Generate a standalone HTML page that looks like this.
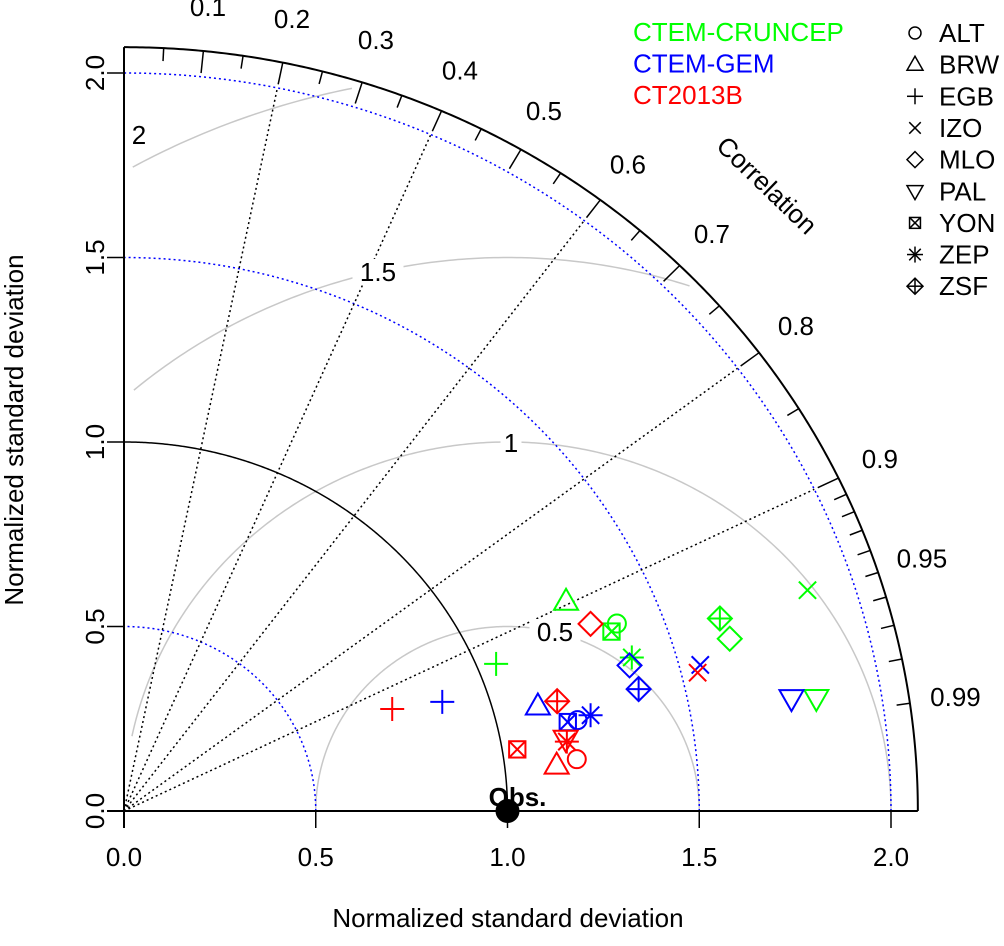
<!DOCTYPE html>
<html><head><meta charset="utf-8"><style>
html,body{margin:0;padding:0;background:#fff;}
svg{display:block;font-family:"Liberation Sans",Arial,sans-serif;}
</style></head><body>
<svg id="chart" width="1004" height="946" viewBox="0 0 1004 946" xmlns="http://www.w3.org/2000/svg">
<g id="grid"></g>
<g id="marks"></g>
<g id="legend"></g>
</svg>
<script>
const stations = ["ALT","BRW","EGB","IZO","MLO","PAL","YON","ZEP","ZSF"];
const models = ["CTEM-CRUNCEP","CTEM-GEM","CT2013B"];
const modelColors = ["#00ff00","#0000ff","#ff0000"];
const sdCruncep = [1.382,1.285,1.049,1.880,1.647,1.831,1.361,1.388,1.639];
const corCruncep = [0.930,0.897,0.925,0.948,0.959,0.986,0.934,0.954,0.948];
const sdGem = [1.208,1.116,0.881,1.554,1.376,1.767,1.182,1.244,1.382];
const corGem = [0.979,0.967,0.942,0.967,0.958,0.985,0.979,0.978,0.971];
const sdCt = [1.189,1.135,0.752,1.542,1.318,1.168,1.039,1.170,1.168];
const corCt = [0.993,0.994,0.930,0.970,0.923,0.986,0.987,0.987,0.967];
const sdTicks = [0,0.5,1.0,1.5,2.0];
const sdTickLabels = ["0.0","0.5","1.0","1.5","2.0"];
const corrLabels = [0.1,0.2,0.3,0.4,0.5,0.6,0.7,0.8,0.9,0.95,0.99];
const corrLines = [0.2,0.4,0.6,0.8,0.9];
const rmsLevels = [0.5,1,1.5,2];
const rmsLabels = ["0.5","1","1.5","2"];

const NS="http://www.w3.org/2000/svg";
const OX=124, OY=811, SX=383.5, SY=369, RMAX=2.07, FS=26;
const px=x=>OX+x*SX, py=y=>OY-y*SY;
const polar=(r,c)=>[px(r*c), py(r*Math.sqrt(Math.max(0,1-c*c)))];
function el(tag,attrs,parent){const e=document.createElementNS(NS,tag);for(const k in attrs)e.setAttribute(k,attrs[k]);parent.appendChild(e);return e;}
function arcPath(cx,r,t0,t1,filter){let d="",pen=false;for(let i=0;i<=400;i++){const t=t0+(t1-t0)*i/400;const x=cx+r*Math.cos(t),y=r*Math.sin(t);if(filter&&!filter(x,y)){pen=false;continue;}d+=(pen?"L":"M")+px(x).toFixed(2)+","+py(y).toFixed(2);pen=true;}return d;}
const grid=document.getElementById('grid');

rmsLevels.forEach((r,i)=>{
  const p=el('path',{d:arcPath(1,r,0,Math.PI,(x,y)=>x>=0.02&&Math.hypot(x,y)<=2.05),fill:'none',stroke:'#c8c8c8','stroke-width':1.5},grid);
  
  
});
[0.5,1.5,2.0].forEach(r=>{
  const p=el('path',{d:arcPath(0,r,0,Math.PI/2),fill:'none',stroke:'#0000ff','stroke-width':1.5,'stroke-dasharray':'2,3'},grid);
  
  
});
let ra=el('path',{d:arcPath(0,1,0,Math.PI/2),fill:'none',stroke:'#000','stroke-width':1.5},grid);


corrLines.forEach(c=>{
  const [x,y]=polar(2,c);
  const l=el('line',{x1:OX,y1:OY,x2:x,y2:y,stroke:'#000','stroke-width':1.5,'stroke-dasharray':'2,3'},grid);
  
  
});
let oa=el('path',{d:arcPath(0,RMAX,0,Math.PI/2),fill:'none',stroke:'#000','stroke-width':2},grid);


let xa=el('line',{x1:107,y1:OY,x2:px(RMAX),y2:OY,stroke:'#000','stroke-width':2},grid);


let ya=el('line',{x1:OX,y1:OY+17,x2:OX,y2:py(RMAX),stroke:'#000','stroke-width':2},grid);


sdTicks.forEach((v,i)=>{
  el('line',{x1:px(v),y1:OY,x2:px(v),y2:OY+17,stroke:'#000','stroke-width':1.5},grid);
  const t=el('text',{x:px(v),y:OY+55,'font-size':FS,'text-anchor':'middle'},grid);
  t.textContent=sdTickLabels[i];
  
  
  el('line',{x1:OX-17,y1:py(v),x2:OX,y2:py(v),stroke:'#000','stroke-width':1.5},grid);
  const ty=el('text',{x:0,y:0,'font-size':FS,'text-anchor':'middle',transform:`translate(${OX-20},${py(v)}) rotate(-90)`},grid);
  ty.textContent=sdTickLabels[i];
  
  
});
const longT=[0.1,0.2,0.3,0.4,0.5,0.6,0.7,0.8,0.9];
const shortT=[0.05,0.15,0.25,0.35,0.45,0.55,0.65,0.75,0.85,0.91,0.92,0.93,0.94,0.95,0.96,0.97,0.98,0.99];
longT.forEach(c=>{const [a,b]=polar(RMAX,c),[d,e]=polar(2.01,c);el('line',{x1:a,y1:b,x2:d,y2:e,stroke:'#000','stroke-width':1.5},grid);});
shortT.forEach(c=>{const [a,b]=polar(RMAX,c),[d,e]=polar(2.035,c);el('line',{x1:a,y1:b,x2:d,y2:e,stroke:'#000','stroke-width':1.5},grid);});
corrLabels.forEach(c=>{
  const [x,y]=polar(2.19,c);
  const t=el('text',{x:x,y:y+9,'font-size':FS,'text-anchor':'middle'},grid);
  t.textContent=String(c);
  
  
});
let ct=el('text',{x:0,y:0,'font-size':FS,'text-anchor':'middle',transform:`translate(${px(1.66)},${py(1.70)+8}) rotate(44)`},grid);
ct.textContent='Correlation';


const rmsPos=[[555,632],[511,443],[378,272],[139,135]];
rmsLabels.forEach((s,i)=>{
  const [x,y]=rmsPos[i];
  el('rect',{x:x-s.length*7.5-3,y:y-13,width:s.length*15+6,height:26,fill:'#fff'},grid);
  const t=el('text',{x:x,y:y+9,'font-size':FS,'text-anchor':'middle'},grid);
  t.textContent=s;
  
  
});
let xt=el('text',{x:508,y:927,'font-size':FS,'text-anchor':'middle'},grid);
xt.textContent='Normalized standard deviation';


let yt=el('text',{x:0,y:0,'font-size':FS,'text-anchor':'middle',transform:'translate(23,430) rotate(-90)'},grid);
yt.textContent='Normalized standard deviation';



function marker(parent,k,cx,cy,s,col,w){
  const g=el('g',{fill:'none',stroke:col,'stroke-width':w},parent);
  const L=(a,b,c,d)=>el('line',{x1:a,y1:b,x2:c,y2:d},g);
  const D=()=>el('polygon',{points:`${cx},${cy-s} ${cx+s},${cy} ${cx},${cy+s} ${cx-s},${cy}`},g);
  if(k===0) el('circle',{cx:cx,cy:cy,r:s*0.75},g);
  else if(k===1) el('polygon',{points:`${cx},${cy-s*1.05} ${cx+s},${cy+s*0.7} ${cx-s},${cy+s*0.7}`},g);
  else if(k===2){L(cx-s,cy,cx+s,cy);L(cx,cy-s,cx,cy+s);}
  else if(k===3){const a=s*0.72;L(cx-a,cy-a,cx+a,cy+a);L(cx-a,cy+a,cx+a,cy-a);}
  else if(k===4) D();
  else if(k===5) el('polygon',{points:`${cx},${cy+s*1.05} ${cx+s},${cy-s*0.7} ${cx-s},${cy-s*0.7}`},g);
  else if(k===6){const a=s*0.68;el('rect',{x:cx-a,y:cy-a,width:2*a,height:2*a},g);L(cx-a,cy-a,cx+a,cy+a);L(cx-a,cy+a,cx+a,cy-a);}
  else if(k===7){const a=s*0.72;L(cx-s,cy,cx+s,cy);L(cx,cy-s,cx,cy+s);L(cx-a,cy-a,cx+a,cy+a);L(cx-a,cy+a,cx+a,cy-a);}
  else if(k===8){D();L(cx-s,cy,cx+s,cy);L(cx,cy-s,cx,cy+s);}
  return g;
}
const marks=document.getElementById('marks');
const sdSets=[sdCruncep,sdGem,sdCt], corSets=[corCruncep,corGem,corCt];
sdSets.forEach((sds,m)=>{
  sds.forEach((sd,i)=>{
    const [x,y]=polar(sd,corSets[m][i]);
    const g=marker(marks,i,x,y,12,modelColors[m],2);
    
    
  });
});
let obs=el('circle',{cx:px(1),cy:py(0),r:12,fill:'#000'},marks);


let ot=el('text',{x:px(1)+10,y:OY-5,'font-size':FS,'font-weight':'bold','text-anchor':'middle'},marks);
ot.textContent='Obs.';



const leg=document.getElementById('legend');
models.forEach((m,i)=>{
  const t=el('text',{x:633,y:41+i*31.5,'font-size':FS,fill:modelColors[i]},leg);
  t.textContent=m;
  
  
});
stations.forEach((s,i)=>{
  const by=42+i*31.65;
  const g=marker(leg,i,915,by-9,8,'#000',1.5);
  
  
  const t=el('text',{x:939,y:by,'font-size':FS,fill:'#000'},leg);
  t.textContent=s;
  
  
});
</script>
</body></html>
